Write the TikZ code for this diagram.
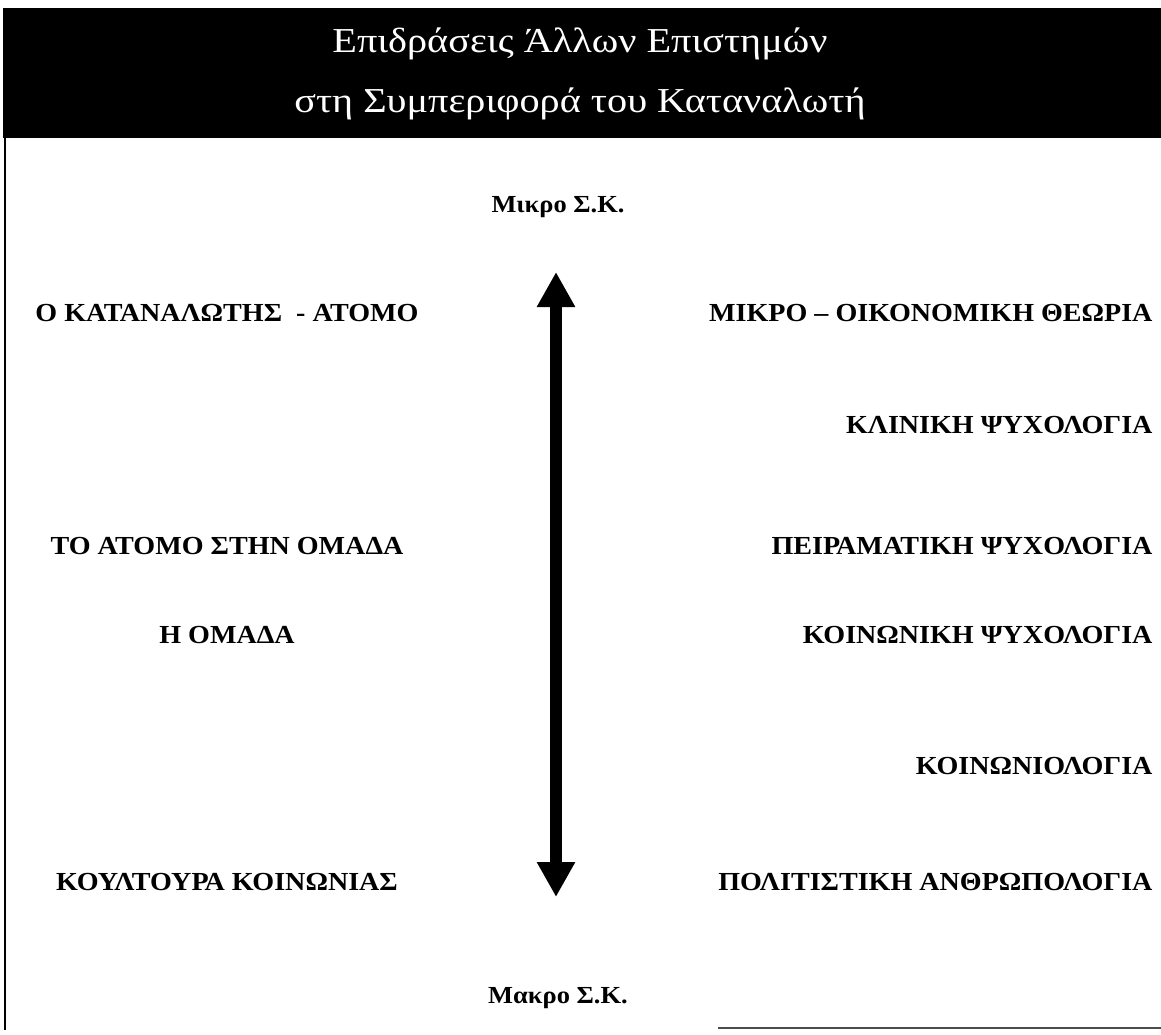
\documentclass[tikz,border=0pt]{standalone}
\usepackage{fontspec}
\setmainfont{Liberation Serif}[FakeStretch=1.08]
\newfontfamily\titlefont{Liberation Serif}[FakeStretch=1.15]
\usetikzlibrary{arrows.meta}

\begin{document}
\begin{tikzpicture}[x=1pt,y=-1pt,font=\bfseries\fontsize{26}{30}\selectfont]
\useasboundingbox (0,0) rectangle (1161,1035);
% header band
\fill[black] (3,8) rectangle (1161,138);
\node[white,font=\titlefont\fontsize{35}{40}\selectfont] (title1) at (580,44) {Επιδράσεις Άλλων Επιστημών};
\node[white,font=\titlefont\fontsize{35}{40}\selectfont] (title2) at (580,104) {στη Συμπεριφορά του Καταναλωτή};
% frame
\draw[line width=2pt] (5,138) -- (5,1030);
\draw[line width=1.5pt,black!70] (718,1028) -- (1161,1028);
% scale ends and arrow
\node[font=\bfseries\fontsize{24.5}{28}\selectfont] (mikro) at (558,207) {Μικρο Σ.Κ.};
\node[font=\bfseries\fontsize{24.5}{28}\selectfont] (makro) at (558,998) {Μακρο Σ.Κ.};
\coordinate (up) at (556,272);
\coordinate (down) at (556,897);
\draw[line width=12pt,{Triangle[width=36pt,length=35pt]}-{Triangle[width=36pt,length=35pt]}] (up) -- (down);
% left column
\foreach \n/\y/\t in {atomo/313/{Ο ΚΑΤΑΝΑΛΩΤΗΣ\ \ - ΑΤΟΜΟ},omadaA/546/{ΤΟ ΑΤΟΜΟ ΣΤΗΝ ΟΜΑΔΑ},omada/635/{Η ΟΜΑΔΑ},koult/882/{ΚΟΥΛΤΟΥΡΑ ΚΟΙΝΩΝΙΑΣ}} {
  \node (\n) at (227,\y) {\t};
}
% right column
\foreach \n/\y/\t in {oik/313/{ΜΙΚΡΟ – ΟΙΚΟΝΟΜΙΚΗ ΘΕΩΡΙΑ},klin/425/{ΚΛΙΝΙΚΗ ΨΥΧΟΛΟΓΙΑ},peir/546/{ΠΕΙΡΑΜΑΤΙΚΗ ΨΥΧΟΛΟΓΙΑ},koinps/635/{ΚΟΙΝΩΝΙΚΗ ΨΥΧΟΛΟΓΙΑ},koinol/766/{ΚΟΙΝΩΝΙΟΛΟΓΙΑ},anthr/882/{ΠΟΛΙΤΙΣΤΙΚΗ ΑΝΘΡΩΠΟΛΟΓΙΑ}} {
  \node[anchor=east] (\n) at (1156,\y) {\t};
}
\end{tikzpicture}
\end{document}
